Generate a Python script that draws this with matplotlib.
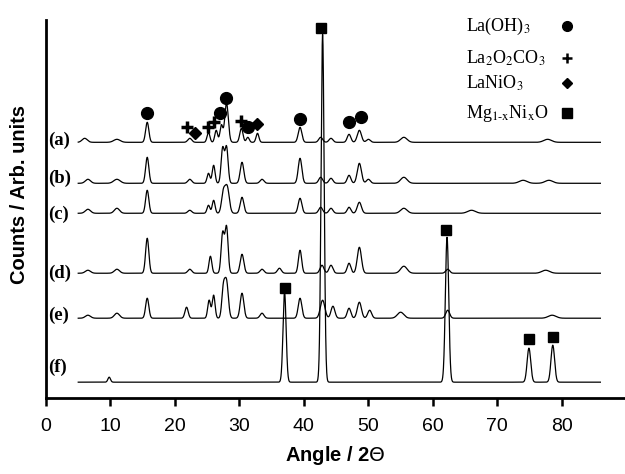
import numpy as np
import matplotlib
matplotlib.use("Agg")
import matplotlib.pyplot as plt

plt.rcParams['mathtext.fontset'] = 'stix'

# ---- data (arbitrary count units) ----
angle_start, angle_end = 5.0, 86.0
labels = ['(a)', '(b)', '(c)', '(d)', '(e)', '(f)']
baselines = [256, 215, 185, 125, 80, 16]
label_y = [258, 220, 184, 125, 83, 31]

peaks_a_pos = [6.0, 11.0, 15.7, 22.3, 25.2, 26.4, 27.2, 28.0, 30.3, 31.3, 32.8, 39.4, 42.6, 44.2, 47.0, 48.6, 50.0, 55.5, 77.8]
peaks_a_h   = [4, 3, 20, 4, 10, 12, 17, 39, 14, 5, 9, 15, 5, 4, 8, 12, 3, 5, 3]
peaks_a_w   = [0.4, 0.5, 0.25, 0.3, 0.22, 0.22, 0.22, 0.28, 0.25, 0.22, 0.22, 0.28, 0.3, 0.3, 0.28, 0.32, 0.3, 0.5, 0.6]

peaks_b_pos = [6.5, 11.0, 15.7, 22.3, 25.2, 26.0, 27.4, 28.0, 30.4, 33.5, 39.4, 42.6, 44.2, 47.0, 48.6, 50.0, 55.5, 74.0, 78.0]
peaks_b_h   = [4, 4, 26, 4, 10, 18, 35, 36, 21, 4, 25, 6, 5, 8, 20, 4, 6, 3, 3]
peaks_b_w   = [0.4, 0.5, 0.25, 0.3, 0.22, 0.22, 0.24, 0.24, 0.28, 0.3, 0.28, 0.3, 0.3, 0.28, 0.32, 0.3, 0.5, 0.6, 0.6]

peaks_c_pos = [6.5, 11.0, 15.7, 22.3, 25.2, 26.0, 27.5, 28.1, 30.4, 39.4, 42.6, 44.2, 47.0, 48.6, 55.5, 66.0]
peaks_c_h   = [4, 5, 23, 3, 8, 13, 20, 26, 16, 15, 6, 5, 6, 11, 5, 3]
peaks_c_w   = [0.4, 0.4, 0.25, 0.3, 0.22, 0.22, 0.28, 0.32, 0.28, 0.28, 0.3, 0.3, 0.28, 0.32, 0.5, 0.6]

peaks_d_pos = [6.5, 11.0, 15.7, 22.3, 25.5, 27.4, 28.0, 30.4, 33.5, 36.2, 39.4, 42.8, 44.2, 47.0, 48.6, 55.5, 62.3, 77.5]
peaks_d_h   = [3, 4, 35, 4, 17, 40, 46, 19, 4, 5, 23, 8, 8, 10, 26, 7, 4, 3]
peaks_d_w   = [0.4, 0.4, 0.25, 0.3, 0.22, 0.24, 0.24, 0.28, 0.3, 0.3, 0.25, 0.3, 0.3, 0.28, 0.32, 0.5, 0.3, 0.6]

peaks_e_pos = [6.5, 11.0, 15.7, 21.8, 25.3, 26.0, 27.5, 28.0, 30.4, 33.5, 39.4, 42.9, 44.5, 47.0, 48.6, 50.2, 55.0, 62.3, 78.5]
peaks_e_h   = [3, 5, 20, 11, 18, 23, 28, 36, 25, 5, 20, 18, 12, 10, 16, 8, 6, 8, 3]
peaks_e_w   = [0.4, 0.4, 0.25, 0.25, 0.22, 0.22, 0.24, 0.28, 0.28, 0.3, 0.28, 0.35, 0.3, 0.28, 0.32, 0.3, 0.5, 0.3, 0.6]

peaks_f_pos = [9.8, 37.0, 42.9, 62.2, 74.9, 78.6]
peaks_f_h   = [5, 90, 348, 145, 34, 37]
peaks_f_w   = [0.2, 0.24, 0.24, 0.26, 0.28, 0.28]

# phase markers (angle, height)
laoh3_x = [15.7, 27.0, 27.9, 31.3, 39.4, 47.0, 48.9]
laoh3_y = [285, 285, 300, 271, 279, 276, 281]
la2o2co3_x = [21.8, 25.1, 26.1, 30.2]
la2o2co3_y = [271, 271, 276, 277]
lanio3_x = [23.1, 32.8]
lanio3_y = [265, 274]
mgnio_x = [42.6, 37.0, 62.0, 74.9, 78.6]
mgnio_y = [370, 110, 168, 59, 61]

legend_names = ['La(OH)$_3$', 'La$_2$O$_2$CO$_3$', 'LaNiO$_3$',
                'Mg$_{\\mathrm{1\u2010x}}$Ni$_\\mathrm{x}$O']
legend_y = [372, 340, 315, 285]

all_peaks = [
    (peaks_a_pos, peaks_a_h, peaks_a_w),
    (peaks_b_pos, peaks_b_h, peaks_b_w),
    (peaks_c_pos, peaks_c_h, peaks_c_w),
    (peaks_d_pos, peaks_d_h, peaks_d_w),
    (peaks_e_pos, peaks_e_h, peaks_e_w),
    (peaks_f_pos, peaks_f_h, peaks_f_w),
]

# ---- figure ----
fig = plt.figure(figsize=(6.25, 4.74), dpi=100)
ax = fig.add_axes([0.0736, 0.160, 0.9264, 0.797])

x = np.arange(angle_start, angle_end, 0.02)
for base, ly, (pos, h, w), lab in zip(baselines, label_y, all_peaks, labels):
    y = np.full_like(x, float(base))
    for p, hh, ww in zip(pos, h, w):
        y += hh * np.exp(-0.5 * ((x - p) / ww) ** 2)
    ax.plot(x, y, color='black', lw=0.9)
    ax.text(0.3, ly, lab, ha='left', va='center', fontsize=13.5,
            fontweight='bold', family='Liberation Serif')

ax.plot(laoh3_x, laoh3_y, 'o', color='black', ms=8.5, ls='none')
ax.plot(la2o2co3_x, la2o2co3_y, '+', color='black', ms=8, mew=2.5, ls='none')
ax.plot(lanio3_x, lanio3_y, 'D', color='black', ms=6, ls='none')
ax.plot(mgnio_x, mgnio_y, 's', color='black', ms=7.5, ls='none')

# legend drawn as text + markers
leg_markers = [('o', 7, 1), ('+', 7, 1.8), ('D', 5.5, 1), ('s', 7, 1)]
for name, yy, (m, ms, mew) in zip(legend_names, legend_y, leg_markers):
    ax.text(65.2, yy, name, ha='left', va='center', fontsize=13, family='Liberation Serif')
    ax.plot([80.8], [yy], m, color='black', ms=ms, mew=mew, ls='none')

ax.set_xlim(0, 89.8)
ax.set_ylim(0, 378)
ax.set_xticks([0, 10, 20, 30, 40, 50, 60, 70, 80])
ax.set_yticks([])
ax.spines['top'].set_visible(False)
ax.spines['right'].set_visible(False)
ax.spines['left'].set_linewidth(2)
ax.spines['bottom'].set_linewidth(2)
ax.tick_params(axis='x', direction='out', length=6, width=1.8, labelsize=14, pad=8)
for t in ax.get_xticklabels():
    t.set_family('Liberation Sans')
ax.set_xlabel('Angle / 2$\\Theta$', fontsize=14.5, fontweight='bold', family='Liberation Sans',
              labelpad=7, math_fontfamily='dejavusans')
fig.text(20 / 625, 1 - 195 / 474, 'Counts / Arb. units', rotation=90, ha='center', va='center',
         fontsize=14.5, fontweight='bold', family='Liberation Sans')
ax.patch.set_alpha(0)

fig.savefig('out.png', dpi=100)
